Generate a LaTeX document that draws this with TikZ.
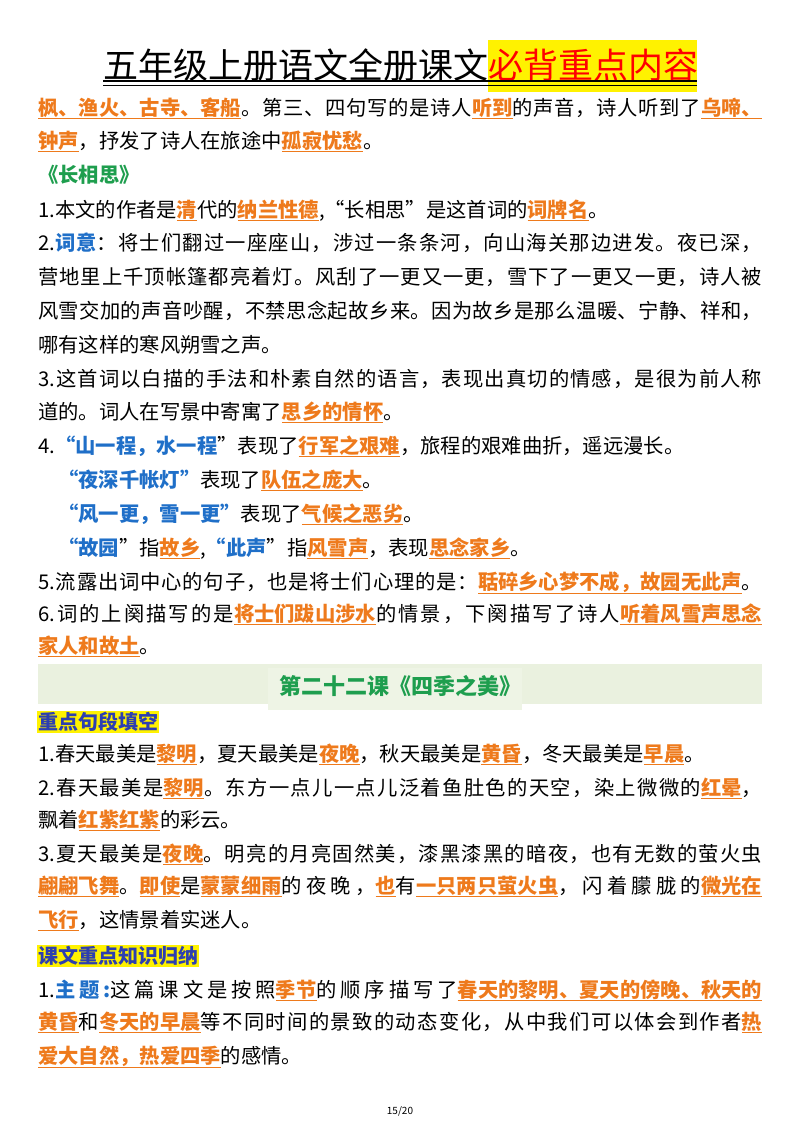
\documentclass[tikz,border=0pt]{standalone}
\usepackage{fontspec}
\setmainfont{Noto Sans CJK SC}
\definecolor{ora}{HTML}{EE7A1C}
\definecolor{blu}{HTML}{1F6FC8}
\definecolor{grn}{HTML}{1E9E4E}
\definecolor{bandg}{HTML}{EAF1DF}
\definecolor{hb}{HTML}{2D3FB0}
\newcount\cjkc
\cjkc="4E00
\loop\ifnum\cjkc<"9FFF \XeTeXcharclass\cjkc=7 \advance\cjkc by 1 \repeat
\XeTeXcharclass"FF0C=7 \XeTeXcharclass"3001=7 \XeTeXcharclass"3002=7
\XeTeXcharclass"FF1A=7 \XeTeXcharclass"201C=7 \XeTeXcharclass"201D=7
\XeTeXinterchartokenstate=1
\XeTeXinterchartoks 0 7 {\hskip 0pt plus 2pt}
\XeTeXinterchartoks 7 0 {\hskip 0pt plus 2pt}
\XeTeXinterchartoks 7 7 {\hskip 0pt plus 2pt}
\newcommand\ok[1]{\textcolor{ora}{$\underline{\hbox{\bfseries #1}}$}}
\newcommand\bk[1]{\textcolor{blu}{\bfseries #1}}
\newcommand\full[1]{\hbox to 724pt{#1}}
\tikzset{ln/.style={anchor=base west,inner sep=0pt,font=\fontsize{20.3}{22}\selectfont},
 tag/.style={anchor=west,inner sep=1pt,fill=yellow,text=hb,font=\fontsize{20}{22}\selectfont\bfseries}}
\begin{document}
\begin{tikzpicture}[x=1pt,y=-1pt]
\useasboundingbox (0,0) rectangle (800,1132);
\fill[yellow] (488,40) rectangle (697,92);
\node[anchor=base west,inner sep=0pt,font=\fontsize{35}{40}\selectfont] (title) at (103,78) {五年级上册语文全册课文\textcolor{red}{必背重点内容}};
\draw[line width=1.6pt] (103,81) -- (697,81);
\draw[line width=0.6pt] (103,85) -- (697,85);
\node[ln] (l1) at (38,115) {\full{\ok{枫、渔火、古寺、客船}。第三、四句写的是诗人\ok{听到}的声音，诗人听到了\ok{乌啼、}}};
\node[ln] (l2) at (38,148) {\ok{钟声}，抒发了诗人在旅途中\ok{孤寂忧愁}。};
\node[ln] (l3) at (38,182) {\textcolor{grn}{\bfseries 《长相思》}};
\node[ln] (l4) at (38,217) {1.本文的作者是\ok{清}代的\ok{纳兰性德},“长相思”是这首词的\ok{词牌名}。};
\node[ln] (l5) at (38,250) {\full{2.\bk{词意}：将士们翻过一座座山，涉过一条条河，向山海关那边进发。夜已深，}};
\node[ln] (l6) at (38,284) {\full{营地里上千顶帐篷都亮着灯。风刮了一更又一更，雪下了一更又一更，诗人被}};
\node[ln] (l7) at (38,318) {\full{风雪交加的声音吵醒，不禁思念起故乡来。因为故乡是那么温暖、宁静、祥和，}};
\node[ln] (l8) at (38,352) {哪有这样的寒风朔雪之声。};
\node[ln] (l9) at (38,386) {\full{3.这首词以白描的手法和朴素自然的语言，表现出真切的情感，是很为前人称}};
\node[ln] (l10) at (38,419) {道的。词人在写景中寄寓了\ok{思乡的情怀}。};
\node[ln] (l11) at (38,453) {4.\bk{“山一程，水一程}”表现了\ok{行军之艰难}，旅程的艰难曲折，遥远漫长。};
\node[ln] (l12) at (58,487) {\bk{“夜深千帐灯”}表现了\ok{队伍之庞大}。};
\node[ln] (l13) at (58,521) {\bk{“风一更，雪一更”}表现了\ok{气候之恶劣}。};
\node[ln] (l14) at (58,555) {\bk{“故园}”指\ok{故乡},\bk{“此声}”指\ok{风雪声}，表现\ok{思念家乡}。};
\node[ln] (l15) at (38,589) {\full{5.流露出词中心的句子，也是将士们心理的是：\ok{聒碎乡心梦不成，故园无此声}。}};
\node[ln] (l16) at (38,621) {\full{6.词的上阕描写的是\ok{将士们跋山涉水}的情景，下阕描写了诗人\ok{听着风雪声思念}}};
\node[ln] (l17) at (38,653) {\ok{家人和故土}。};
\fill[bandg] (38,664) rectangle (762,704);
\fill[bandg!80!white] (268,668) rectangle (522,710);
\node[font=\fontsize{22}{26}\selectfont\bfseries,text=grn] (h2) at (400,686) {第二十二课《四季之美》};
\node[tag] (t1) at (37,722) {重点句段填空};
\node[ln] (m1) at (38,761) {1.春天最美是\ok{黎明}，夏天最美是\ok{夜晚}，秋天最美是\ok{黄昏}，冬天最美是\ok{早晨}。};
\node[ln] (m2) at (38,795) {\full{2.春天最美是\ok{黎明}。东方一点儿一点儿泛着鱼肚色的天空，染上微微的\ok{红晕}，}};
\node[ln] (m3) at (38,827) {飘着\ok{红紫红紫}的彩云。};
\node[ln] (m4) at (38,861) {\full{3.夏天最美是\ok{夜晚}。明亮的月亮固然美，漆黑漆黑的暗夜，也有无数的萤火虫}};
\node[ln] (m5) at (38,893) {\full{\ok{翩翩飞舞}。\ok{即使}是\ok{蒙蒙细雨}的夜晚，\ok{也}有\ok{一只两只萤火虫}，闪着朦胧的\ok{微光在}}};
\node[ln] (m6) at (38,927) {\ok{飞行}，这情景着实迷人。};
\node[tag] (t2) at (37,956) {课文重点知识归纳};
\node[ln] (n1) at (38,997) {\full{1.\bk{主题:}这篇课文是按照\ok{季节}的顺序描写了\ok{春天的黎明、夏天的傍晚、秋天的}}};
\node[ln] (n2) at (38,1029) {\full{\ok{黄昏}和\ok{冬天的早晨}等不同时间的景致的动态变化，从中我们可以体会到作者\ok{热}}};
\node[ln] (n3) at (38,1063) {\ok{爱大自然，热爱四季}的感情。};
\node[font=\fontsize{10}{12}\selectfont] (pg) at (400,1111) {15/20};
\end{tikzpicture}
\end{document}
